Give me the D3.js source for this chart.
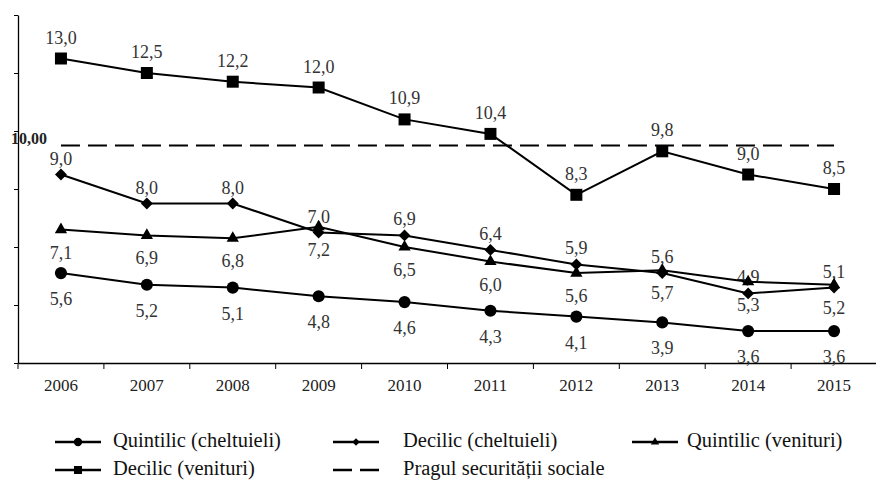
<!DOCTYPE html>
<html>
<head>
<meta charset="utf-8">
<script src="https://cdn.jsdelivr.net/npm/d3@7"></script>
<style>
  body { margin: 0; background: #fff; }
  svg { display: block; }
</style>
</head>
<body>
<svg id="chart"></svg>
<script>
const years = ["2006", "2007", "2008", "2009", "2010", "2011", "2012", "2013", "2014", "2015"]
const quintilicCheltuieli = [5.6, 5.2, 5.1, 4.8, 4.6, 4.3, 4.1, 3.9, 3.6, 3.6]
const decilicCheltuieli = [9.0, 8.0, 8.0, 7.0, 6.9, 6.4, 5.9, 5.6, 4.9, 5.1]
const quintilicVenituri = [7.1, 6.9, 6.8, 7.2, 6.5, 6.0, 5.6, 5.7, 5.3, 5.2]
const decilicVenituri = [13.0, 12.5, 12.2, 12.0, 10.9, 10.4, 8.3, 9.8, 9.0, 8.5]
const pragul = 10.0
const yTicks = [2.5, 4.5, 6.5, 8.5, 10.5, 12.5, 14.5]

const serif = "'Liberation Serif'"
const width = 876, height = 480
const svg = d3.select("#chart").attr("width", width).attr("height", height)

const x = d3.scaleBand().domain(years).range([18, 877])
const y = d3.scaleLinear().domain([2.5, 14.5]).range([363, 15])
const cx = d => x(d) + x.bandwidth() / 2
const fmt = v => v.toFixed(1).replace(".", ",")

// x axis
const xAxis = svg.append("g")
  .attr("transform", "translate(0,363)")
  .call(d3.axisBottom(x).tickSize(0).tickPadding(16))
xAxis.select(".domain").attr("stroke", "#000").attr("stroke-width", 1.3)
xAxis.selectAll("text")
  .style("font-family", serif).style("font-size", "17px")
  .attr("fill", "#222")
// tick marks at the band edges
svg.append("g").selectAll("line")
  .data(years)
  .join("line")
  .attr("x1", d => x(d)).attr("x2", d => x(d))
  .attr("y1", 363).attr("y2", 369)
  .attr("stroke", "#000")

// y axis, no labels
const yAxis = svg.append("g")
  .attr("transform", "translate(18,0)")
  .call(d3.axisLeft(y).tickValues(yTicks).tickSize(4).tickSizeOuter(0).tickFormat(""))
yAxis.select(".domain").attr("stroke", "#000").attr("stroke-width", 1.3)
yAxis.selectAll("line").attr("stroke", "#000")

// threshold line
svg.append("line")
  .attr("x1", cx(years[0])).attr("x2", cx(years[years.length - 1]))
  .attr("y1", y(pragul)).attr("y2", y(pragul))
  .attr("stroke", "#000").attr("stroke-width", 2.2)
  .attr("stroke-dasharray", "19,8")
svg.append("text")
  .attr("x", 11).attr("y", y(pragul) - 2)
  .style("font-family", serif).style("font-size", "16px").style("font-weight", "bold")
  .attr("fill", "#222")
  .text("10,00")

const line = d3.line().x((d, i) => cx(years[i])).y(d => y(d))

const series = [
  {name: "Quintilic (cheltuieli)", values: quintilicCheltuieli, symbol: d3.symbolCircle, size: 115, dy: 32},
  {name: "Decilic (cheltuieli)", values: decilicCheltuieli, symbol: d3.symbolDiamond2, size: 90, dy: -10},
  {name: "Quintilic (venituri)", values: quintilicVenituri, symbol: d3.symbolTriangle, size: 65, dy: 29},
  {name: "Decilic (venituri)", values: decilicVenituri, symbol: d3.symbolSquare, size: 144, dy: -15}
]

series.forEach(s => {
  svg.append("path")
    .datum(s.values)
    .attr("fill", "none")
    .attr("stroke", "#000")
    .attr("stroke-width", 2)
    .attr("d", line)

  svg.append("g").selectAll("path")
    .data(s.values)
    .join("path")
    .attr("transform", (d, i) => `translate(${cx(years[i])},${y(d)})`)
    .attr("d", d3.symbol(s.symbol, s.size))
    .attr("fill", "#000")

  svg.append("g").selectAll("text")
    .data(s.values)
    .join("text")
    .attr("x", (d, i) => cx(years[i]))
    .attr("y", d => y(d) + s.dy)
    .attr("text-anchor", "middle")
    .style("font-family", serif).style("font-size", "18px")
    .attr("fill", "#333")
    .text(fmt)
})

// legend
const legendItems = [
  {name: "Quintilic (cheltuieli)", symbol: d3.symbolCircle, size: 55, col: 0, row: 0},
  {name: "Decilic (cheltuieli)", symbol: d3.symbolDiamond2, size: 36, col: 1, row: 0},
  {name: "Quintilic (venituri)", symbol: d3.symbolTriangle, size: 30, col: 2, row: 0},
  {name: "Decilic (venituri)", symbol: d3.symbolSquare, size: 64, col: 0, row: 1},
  {name: "Pragul securității sociale", symbol: null, col: 1, row: 1}
]
const lineX = [55, 333, 632]
const textX = [113, 403, 687]
const rowY = [442, 470]
const legend = svg.append("g").selectAll("g")
  .data(legendItems)
  .join("g")
  .attr("transform", d => `translate(0,${rowY[d.row]})`)
legend.append("line")
  .attr("x1", d => lineX[d.col]).attr("x2", d => lineX[d.col] + 46)
  .attr("y1", 0).attr("y2", 0)
  .attr("stroke", "#000").attr("stroke-width", 2.5)
  .attr("stroke-dasharray", d => d.symbol ? null : "19,8")
legend.filter(d => d.symbol).append("path")
  .attr("transform", d => `translate(${lineX[d.col] + 23},0)`)
  .attr("d", d => d3.symbol(d.symbol, d.size)())
  .attr("fill", "#000")
legend.append("text")
  .attr("x", d => textX[d.col]).attr("y", 5)
  .style("font-family", serif).style("font-size", "20.5px")
  .attr("fill", "#111")
  .text(d => d.name)
</script>
</body>
</html>
